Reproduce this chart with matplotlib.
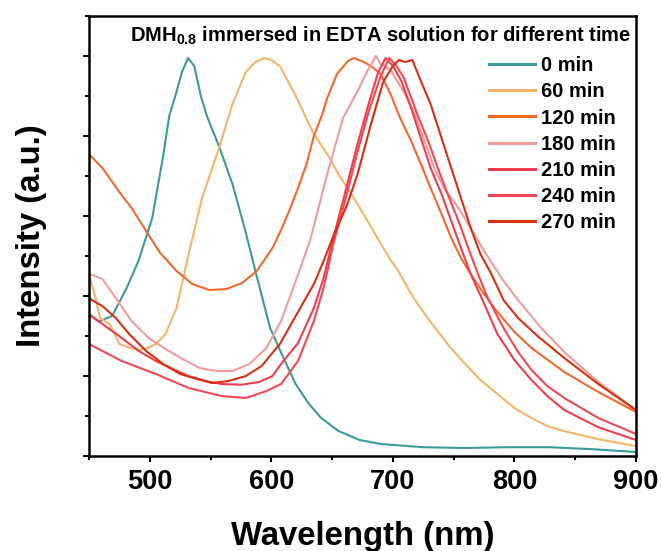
import matplotlib
matplotlib.use("Agg")
import matplotlib.pyplot as plt
from matplotlib.ticker import MultipleLocator, NullFormatter

plt.rcParams['font.family'] = ['Liberation Sans', 'DejaVu Sans']
plt.rcParams['font.weight'] = 'bold'
plt.rcParams['mathtext.fontset'] = 'custom'
plt.rcParams['mathtext.rm'] = 'Liberation Sans:bold'
plt.rcParams['mathtext.bf'] = 'Liberation Sans:bold'

labels = ["0 min", "60 min", "120 min", "180 min", "210 min", "240 min", "270 min"]
colors = ["#3A9C98", "#F7B466", "#F26A2A", "#F39A9C", "#EE3D4E", "#F04852", "#D6300F"]

wl_0 = [450, 458, 469, 481, 491, 502, 511, 516, 521, 526.5, 531.5, 536.6, 542, 547, 557.5,
        568, 578, 589, 599, 610, 620, 631, 641, 655, 672.5, 690, 725, 759, 794, 829, 864, 900]
int_0 = [0.354, 0.336, 0.35, 0.42, 0.49, 0.595, 0.75, 0.85, 0.90, 0.96, 0.995, 0.975, 0.90,
         0.85, 0.77, 0.68, 0.57, 0.4375, 0.32, 0.245, 0.18, 0.13, 0.095, 0.063, 0.04, 0.03,
         0.022, 0.02, 0.022, 0.022, 0.017, 0.01]

wl_60 = [450, 455, 459, 467, 475, 484, 492, 498, 505, 513, 522, 532, 543, 557, 568, 579, 587,
         594, 600, 607, 621, 634, 648, 656, 665, 684, 698, 704, 717, 731, 745, 758, 772, 786,
         800, 814, 827, 841, 869, 900]
int_60 = [0.455, 0.40, 0.345, 0.33, 0.28, 0.27, 0.265, 0.27, 0.28, 0.305, 0.37, 0.505, 0.645,
          0.77, 0.88, 0.96, 0.985, 0.995, 0.99, 0.975, 0.895, 0.81, 0.745, 0.70, 0.66, 0.5625,
          0.49, 0.465, 0.395, 0.335, 0.28, 0.235, 0.19, 0.155, 0.12, 0.095, 0.075, 0.062,
          0.042, 0.025]

wl_120 = [450, 461, 475, 485, 497, 508, 522, 535, 549, 563, 576, 588, 601, 608, 615, 622, 629,
          635, 642, 646, 654, 663, 668, 676, 682, 690, 698, 706, 715, 723, 731, 740, 748, 756,
          764, 775, 786, 800, 814, 841, 869, 900]
int_120 = [0.755, 0.72, 0.66, 0.62, 0.5625, 0.51, 0.4625, 0.43, 0.415, 0.4175, 0.4325, 0.4625,
           0.52, 0.565, 0.615, 0.67, 0.73, 0.80, 0.855, 0.895, 0.955, 0.9875, 0.995, 0.985,
           0.975, 0.955, 0.905, 0.845, 0.7875, 0.73, 0.67, 0.605, 0.545, 0.495, 0.455, 0.405,
           0.36, 0.31, 0.27, 0.21, 0.16, 0.11]

wl_180 = [450, 455, 461, 472, 485, 499, 513, 527, 541, 555, 568, 582, 596, 608, 621, 632, 646,
          659, 671, 679, 686, 690, 698, 709, 717, 726, 734, 742, 754, 764, 775, 791, 803, 822,
          841, 869, 900]
int_180 = [0.455, 0.45, 0.4425, 0.395, 0.3375, 0.295, 0.2675, 0.2425, 0.22, 0.2125, 0.2125,
           0.23, 0.27, 0.3375, 0.445, 0.54, 0.705, 0.845, 0.9125, 0.9625, 1.0, 0.98, 0.965,
           0.91, 0.8625, 0.7875, 0.72, 0.67, 0.62, 0.57, 0.5125, 0.4375, 0.39, 0.32, 0.26,
           0.185, 0.115]

wl_210 = [450, 461, 477, 491, 505, 519, 532, 546, 559, 575, 590, 601, 608, 622, 635, 643, 651,
          660, 670, 680, 688, 694, 700, 707, 715, 723, 731, 740, 748, 756, 764, 773, 786, 800,
          814, 827, 841, 869, 900]
int_210 = [0.355, 0.33, 0.295, 0.2625, 0.2375, 0.2175, 0.20, 0.1875, 0.18, 0.178, 0.185, 0.20,
           0.23, 0.2825, 0.37, 0.445, 0.545, 0.65, 0.77, 0.88, 0.96, 0.995, 0.975, 0.9375,
           0.87, 0.795, 0.72, 0.655, 0.5875, 0.52, 0.455, 0.395, 0.305, 0.24, 0.19, 0.15,
           0.115, 0.072, 0.04]

wl_240 = [450, 477, 505, 532, 559, 579, 596, 608, 622, 635, 643, 651, 660, 670, 680, 690, 697,
          703, 709, 720, 729, 737, 745, 754, 762, 770, 778, 791, 803, 814, 827, 841, 869, 900]
int_240 = [0.28, 0.2375, 0.205, 0.17, 0.15, 0.145, 0.1625, 0.18, 0.2375, 0.3375, 0.42, 0.53,
           0.63, 0.75, 0.86, 0.95, 0.995, 0.975, 0.945, 0.855, 0.7875, 0.72, 0.655, 0.5875,
           0.52, 0.455, 0.395, 0.32, 0.26, 0.215, 0.175, 0.145, 0.095, 0.055]

wl_270 = [450, 455, 461, 472, 483, 497, 511, 525, 539, 551, 565, 579, 592, 607, 621, 635, 643,
          651, 662, 671, 682, 692, 700, 705, 710, 716, 723, 731, 740, 748, 756, 764, 772, 781,
          791, 803, 819, 841, 869, 900]
int_270 = [0.395, 0.385, 0.375, 0.345, 0.305, 0.2625, 0.23, 0.205, 0.1925, 0.1825, 0.1875, 0.20,
           0.225, 0.28, 0.355, 0.43, 0.4875, 0.55, 0.625, 0.705, 0.83, 0.935, 0.975, 0.99,
           0.985, 0.99, 0.9375, 0.88, 0.795, 0.72, 0.645, 0.57, 0.505, 0.455, 0.39, 0.345,
           0.30, 0.245, 0.18, 0.115]

series = [(wl_0, int_0), (wl_60, int_60), (wl_120, int_120), (wl_180, int_180),
          (wl_210, int_210), (wl_240, int_240), (wl_270, int_270)]

fig = plt.figure(figsize=(6.62, 5.51), dpi=100)
ax = fig.add_axes([89 / 662, 1 - 456 / 551, (636 - 89) / 662, (456 - 16) / 551])

for (x, y), lab, c in zip(series, labels, colors):
    ax.plot(x, y, color=c, lw=1.5, label=lab)

ax.set_xlim(450, 900)
ax.set_ylim(0, 1.1)
ax.xaxis.set_major_locator(MultipleLocator(100))
ax.xaxis.set_minor_locator(MultipleLocator(50))
ax.yaxis.set_major_locator(MultipleLocator(0.2))
ax.yaxis.set_minor_locator(MultipleLocator(0.1))
ax.yaxis.set_major_formatter(NullFormatter())
ax.tick_params(which='major', direction='out', length=4.5, width=1.5, labelsize=19.5, pad=5)
ax.tick_params(which='minor', direction='out', length=2.8, width=1.5)
for lbl in ax.get_xticklabels():
    lbl.set_fontweight('bold')
for s in ax.spines.values():
    s.set_linewidth(1.8)

ax.set_xlabel("Wavelength (nm)", fontsize=23.7, fontweight='bold', va='center')
ax.xaxis.set_label_coords(0.5, (456 - 537) / 440)
ax.set_ylabel("Intensity (a.u.)", fontsize=23.7, fontweight='bold', va='center')
ax.yaxis.set_label_coords((32 - 89) / 547, 0.5)

ax.text(0.991, (456 - 42) / 440, r"DMH$_{\mathbf{0.8}}$ immersed in EDTA solution for different time",
        transform=ax.transAxes, ha='right', va='baseline', fontsize=14.5, fontweight='bold')

leg = ax.legend(loc='upper left', bbox_to_anchor=((489 - 89) / 547, (456 - 56) / 440),
                frameon=False, prop={'size': 14.5, 'weight': 'bold'}, handlelength=2.3,
                labelspacing=0.36, handletextpad=0.3, borderpad=0, borderaxespad=0)
for h in leg.get_lines():
    h.set_linewidth(2.2)

fig.savefig("out.png", dpi=100)
